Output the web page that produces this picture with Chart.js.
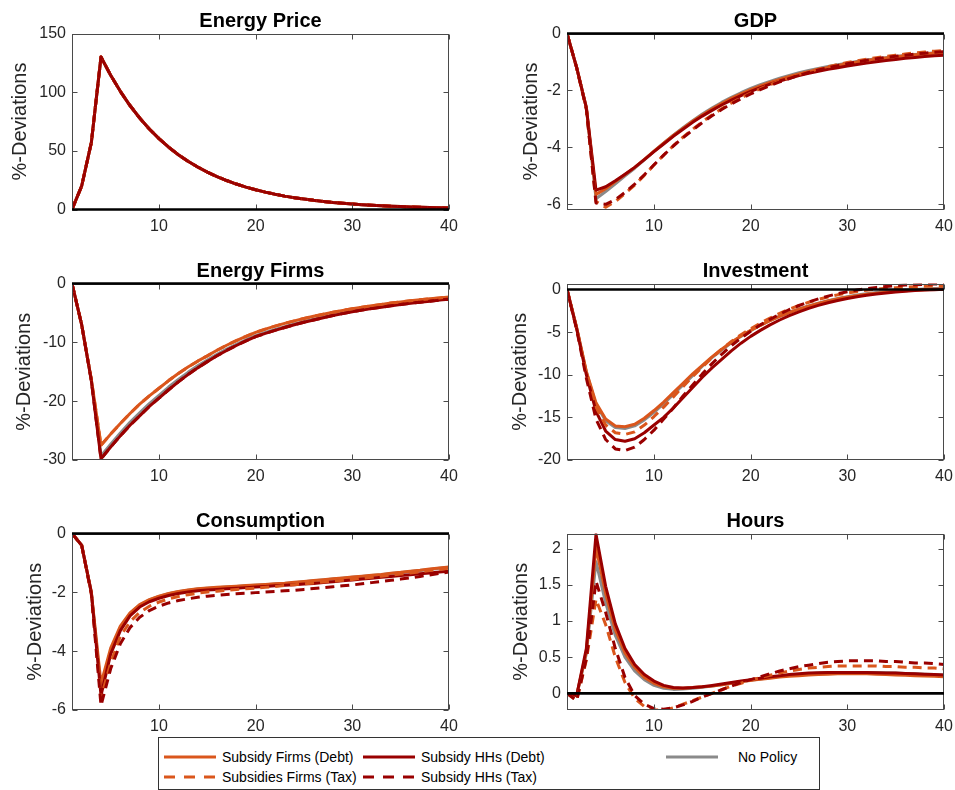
<!DOCTYPE html>
<html>
<head>
<meta charset="utf-8">
<script src="https://cdn.jsdelivr.net/npm/chart.js@4.4.0/dist/chart.umd.min.js"></script>
<style>
  html, body { margin:0; padding:0; background:#fff; }
  body { width:955px; height:790px; position:relative; overflow:hidden; font-family:"Liberation Sans", Arial, sans-serif; }
  canvas.pane { position:absolute; }
  #legend { position:absolute; left:158px; top:737px; width:660px; height:51px; border:1px solid #333; background:#fff; box-sizing:content-box; }
  .it { position:absolute; height:18px; display:flex; align-items:center; font-size:14px; color:#000; white-space:nowrap; }
</style>
</head>
<body>
<div id="legend"></div>
<script>
// ---------------- data ----------------
const periods = [1,2,3,4,5,6,7,8,9,10,11,12,13,14,15,16,17,18,19,20,21,22,23,24,25,26,27,28,29,30,31,32,33,34,35,36,37,38,39,40];
const xTickValues = [10,20,30,40];

const seriesNames = ['Subsidy Firms (Debt)','Subsidy HHs (Debt)','No Policy','Subsidies Firms (Tax)','Subsidy HHs (Tax)'];

// Energy Price (all scenarios coincide)
const energyPrice = [0,20,57,130,114.4,100.7,88.6,78.0,68.6,60.4,53.1,46.7,41.1,36.2,31.9,28.0,24.7,21.7,19.1,16.8,14.8,13.0,11.4,10.1,8.9,7.8,6.9,6.0,5.3,4.7,4.1,3.6,3.2,2.8,2.5,2.2,1.9,1.7,1.5,1.3];
const energyPriceTicks = [0,50,100,150];

// GDP
const gdpFirmsDebt = [0,-1.2,-2.6,-5.65,-5.45,-5.2,-4.95,-4.7,-4.42,-4.13,-3.85,-3.58,-3.33,-3.08,-2.86,-2.65,-2.46,-2.28,-2.12,-1.97,-1.84,-1.72,-1.61,-1.51,-1.42,-1.34,-1.26,-1.19,-1.12,-1.06,-1.0,-0.95,-0.9,-0.86,-0.82,-0.78,-0.75,-0.72,-0.69,-0.67];
const gdpHHsDebt   = [0,-1.2,-2.6,-5.5,-5.38,-5.17,-4.94,-4.7,-4.43,-4.15,-3.88,-3.61,-3.36,-3.12,-2.9,-2.7,-2.51,-2.34,-2.18,-2.03,-1.9,-1.78,-1.67,-1.57,-1.48,-1.4,-1.33,-1.26,-1.2,-1.14,-1.09,-1.04,-0.99,-0.95,-0.91,-0.87,-0.84,-0.81,-0.78,-0.76];
const gdpNoPolicy  = [0,-1.2,-2.6,-5.8,-5.55,-5.28,-5.0,-4.73,-4.44,-4.14,-3.85,-3.57,-3.31,-3.06,-2.83,-2.62,-2.42,-2.24,-2.08,-1.93,-1.8,-1.68,-1.57,-1.47,-1.38,-1.3,-1.23,-1.16,-1.1,-1.04,-0.98,-0.93,-0.89,-0.85,-0.81,-0.77,-0.74,-0.71,-0.68,-0.66];
const gdpFirmsTax  = [0,-1.2,-2.65,-5.9,-6.1,-5.9,-5.62,-5.32,-4.98,-4.62,-4.27,-3.94,-3.64,-3.36,-3.1,-2.86,-2.64,-2.44,-2.26,-2.09,-1.94,-1.8,-1.67,-1.55,-1.44,-1.34,-1.25,-1.17,-1.09,-1.02,-0.96,-0.9,-0.85,-0.8,-0.76,-0.72,-0.68,-0.65,-0.62,-0.6];
const gdpHHsTax    = [0,-1.2,-2.65,-5.95,-6.0,-5.83,-5.58,-5.29,-4.96,-4.61,-4.27,-3.95,-3.66,-3.39,-3.13,-2.89,-2.67,-2.47,-2.29,-2.12,-1.97,-1.83,-1.7,-1.58,-1.47,-1.37,-1.28,-1.2,-1.13,-1.06,-1.0,-0.94,-0.89,-0.84,-0.8,-0.76,-0.72,-0.69,-0.66,-0.64];
const gdpTicks = [-6,-4,-2,0];

// Energy Firms
const efFirmsDebt = [0,-7,-16.3,-27.5,-25.6,-23.8,-22.1,-20.5,-19.1,-17.8,-16.5,-15.3,-14.2,-13.2,-12.3,-11.35,-10.5,-9.7,-8.98,-8.3,-7.75,-7.25,-6.78,-6.35,-5.95,-5.57,-5.22,-4.89,-4.58,-4.3,-4.03,-3.78,-3.55,-3.33,-3.13,-2.94,-2.77,-2.6,-2.45,-2.3];
const efHHsDebt   = [0,-7,-16.5,-29.8,-27.8,-25.9,-24.1,-22.5,-20.9,-19.5,-18.06,-16.72,-15.48,-14.34,-13.28,-12.29,-11.38,-10.54,-9.76,-9.04,-8.49,-7.97,-7.48,-7.02,-6.59,-6.19,-5.81,-5.45,-5.12,-4.8,-4.52,-4.27,-4.02,-3.79,-3.58,-3.37,-3.18,-3.0,-2.82,-2.66];
const efNoPolicy  = [0,-7,-16.4,-29.3,-27.3,-25.4,-23.6,-22.0,-20.4,-19.0,-17.6,-16.3,-15.1,-14.0,-13.0,-12.05,-11.15,-10.33,-9.56,-8.86,-8.3,-7.8,-7.32,-6.87,-6.45,-6.06,-5.69,-5.34,-5.01,-4.7,-4.42,-4.17,-3.93,-3.7,-3.49,-3.29,-3.1,-2.93,-2.76,-2.6];
const efFirmsTax  = [0,-7,-16.3,-27.5,-25.6,-23.8,-22.1,-20.5,-19.1,-17.8,-16.5,-15.3,-14.2,-13.2,-12.3,-11.35,-10.5,-9.7,-8.98,-8.3,-7.75,-7.25,-6.78,-6.35,-5.95,-5.57,-5.22,-4.89,-4.58,-4.3,-4.03,-3.78,-3.55,-3.33,-3.13,-2.94,-2.77,-2.6,-2.45,-2.3];
const efHHsTax    = [0,-7,-16.5,-29.8,-27.8,-25.9,-24.1,-22.5,-20.9,-19.5,-18.06,-16.72,-15.48,-14.34,-13.28,-12.29,-11.38,-10.54,-9.76,-9.04,-8.49,-7.97,-7.48,-7.02,-6.59,-6.19,-5.81,-5.45,-5.12,-4.8,-4.52,-4.27,-4.02,-3.79,-3.58,-3.37,-3.18,-3.0,-2.82,-2.66];
const efTicks = [-30,-20,-10,0];

// Investment
const invFirmsDebt = [0,-4.5,-9.6,-13.3,-15.2,-16.0,-16.1,-15.8,-15.1,-14.2,-13.2,-12.1,-11.0,-9.9,-8.9,-7.9,-7.0,-6.2,-5.45,-4.8,-4.2,-3.65,-3.15,-2.7,-2.3,-1.95,-1.65,-1.35,-1.1,-0.9,-0.72,-0.56,-0.43,-0.32,-0.22,-0.14,-0.07,-0.02,0.02,0.05];
const invHHsDebt   = [0,-4.6,-10.0,-14.3,-16.6,-17.6,-17.8,-17.5,-16.8,-15.9,-15.0,-13.9,-12.7,-11.5,-10.3,-9.2,-8.2,-7.2,-6.3,-5.5,-4.8,-4.15,-3.58,-3.07,-2.62,-2.22,-1.87,-1.56,-1.29,-1.06,-0.86,-0.69,-0.54,-0.41,-0.3,-0.21,-0.13,-0.07,-0.02,0.02];
const invNoPolicy  = [0,-4.5,-9.7,-13.5,-15.4,-16.2,-16.3,-16.0,-15.3,-14.4,-13.4,-12.3,-11.2,-10.1,-9.0,-8.0,-7.1,-6.25,-5.5,-4.82,-4.2,-3.64,-3.14,-2.69,-2.28,-1.92,-1.6,-1.31,-1.06,-0.85,-0.66,-0.5,-0.36,-0.24,-0.14,-0.06,0.01,0.06,0.1,0.13];
const invFirmsTax  = [0,-4.5,-9.8,-13.8,-15.9,-16.8,-17.0,-16.7,-15.9,-14.9,-13.8,-12.6,-11.4,-10.2,-9.1,-8.0,-7.0,-6.1,-5.3,-4.6,-3.95,-3.35,-2.8,-2.3,-1.88,-1.5,-1.17,-0.88,-0.63,-0.42,-0.24,-0.09,0.03,0.13,0.21,0.28,0.33,0.37,0.4,0.42];
const invHHsTax    = [0,-4.7,-10.4,-15.2,-17.6,-18.7,-18.9,-18.5,-17.6,-16.5,-15.2,-13.9,-12.5,-11.2,-9.9,-8.7,-7.6,-6.6,-5.7,-4.9,-4.15,-3.5,-2.9,-2.35,-1.88,-1.47,-1.1,-0.78,-0.5,-0.27,-0.07,0.1,0.24,0.35,0.44,0.51,0.56,0.6,0.63,0.65];
const invTicks = [-20,-15,-10,-5,0];

// Consumption
const consFirmsDebt = [0,-0.4,-2.0,-5.1,-3.9,-3.15,-2.7,-2.42,-2.25,-2.13,-2.04,-1.97,-1.92,-1.88,-1.85,-1.83,-1.81,-1.79,-1.77,-1.75,-1.73,-1.71,-1.69,-1.66,-1.63,-1.6,-1.57,-1.54,-1.51,-1.48,-1.45,-1.42,-1.39,-1.35,-1.32,-1.28,-1.25,-1.21,-1.17,-1.14];
const consHHsDebt   = [0,-0.4,-2.0,-5.5,-4.1,-3.3,-2.8,-2.5,-2.32,-2.2,-2.11,-2.04,-1.99,-1.95,-1.92,-1.9,-1.88,-1.86,-1.84,-1.82,-1.8,-1.78,-1.76,-1.74,-1.72,-1.7,-1.67,-1.64,-1.61,-1.58,-1.55,-1.52,-1.49,-1.46,-1.43,-1.4,-1.37,-1.34,-1.31,-1.28];
const consNoPolicy  = [0,-0.4,-2.0,-5.3,-4.0,-3.2,-2.72,-2.43,-2.26,-2.14,-2.05,-1.98,-1.93,-1.89,-1.86,-1.84,-1.82,-1.8,-1.78,-1.76,-1.74,-1.72,-1.7,-1.67,-1.64,-1.61,-1.58,-1.55,-1.52,-1.49,-1.46,-1.43,-1.4,-1.36,-1.33,-1.29,-1.26,-1.22,-1.18,-1.15];
const consFirmsTax  = [0,-0.4,-2.05,-5.6,-4.4,-3.5,-3.0,-2.68,-2.47,-2.33,-2.22,-2.14,-2.08,-2.03,-1.99,-1.96,-1.93,-1.9,-1.88,-1.86,-1.83,-1.8,-1.77,-1.74,-1.71,-1.68,-1.65,-1.62,-1.59,-1.56,-1.52,-1.49,-1.45,-1.41,-1.38,-1.34,-1.3,-1.26,-1.22,-1.18];
const consHHsTax    = [0,-0.4,-2.05,-5.85,-4.6,-3.75,-3.2,-2.85,-2.62,-2.47,-2.36,-2.28,-2.22,-2.17,-2.13,-2.1,-2.07,-2.05,-2.03,-2.01,-1.99,-1.97,-1.95,-1.93,-1.9,-1.87,-1.84,-1.81,-1.78,-1.75,-1.71,-1.67,-1.63,-1.59,-1.55,-1.51,-1.46,-1.41,-1.36,-1.31];
const consTicks = [-6,-4,-2,0];

// Hours
const hoursFirmsDebt = [0,-0.03,0.58,2.02,1.38,0.88,0.56,0.36,0.22,0.14,0.09,0.07,0.07,0.08,0.09,0.1,0.12,0.14,0.16,0.18,0.195,0.21,0.225,0.235,0.245,0.255,0.26,0.265,0.27,0.27,0.27,0.27,0.265,0.26,0.255,0.25,0.245,0.24,0.235,0.23];
const hoursHHsDebt   = [0,-0.03,0.62,2.2,1.48,0.96,0.62,0.4,0.26,0.17,0.11,0.08,0.075,0.08,0.09,0.11,0.13,0.15,0.17,0.19,0.21,0.23,0.245,0.26,0.27,0.28,0.285,0.29,0.29,0.29,0.29,0.29,0.285,0.28,0.28,0.275,0.27,0.265,0.26,0.255];
const hoursNoPolicy  = [0,-0.03,0.55,1.82,1.25,0.8,0.5,0.31,0.19,0.11,0.07,0.055,0.06,0.07,0.085,0.1,0.12,0.14,0.16,0.18,0.2,0.22,0.235,0.25,0.26,0.27,0.28,0.285,0.29,0.29,0.29,0.29,0.29,0.285,0.28,0.275,0.27,0.265,0.26,0.255];
const hoursFirmsTax  = [0,-0.1,0.46,1.3,0.95,0.5,0.15,-0.07,-0.18,-0.23,-0.23,-0.2,-0.15,-0.1,-0.05,0.0,0.05,0.1,0.14,0.18,0.22,0.25,0.28,0.31,0.33,0.35,0.36,0.37,0.38,0.38,0.38,0.38,0.38,0.37,0.37,0.36,0.36,0.35,0.35,0.34];
const hoursHHsTax    = [0,-0.1,0.48,1.55,1.12,0.62,0.22,-0.03,-0.15,-0.21,-0.22,-0.2,-0.16,-0.11,-0.05,0.0,0.05,0.1,0.15,0.19,0.23,0.27,0.31,0.34,0.37,0.39,0.41,0.43,0.44,0.45,0.45,0.45,0.45,0.44,0.44,0.43,0.42,0.42,0.41,0.4];
const hoursTicks = [0,0.5,1,1.5,2];

// ---------------- styling ----------------
const FONT = '"Liberation Sans", Arial, Helvetica, sans-serif';
const ORANGE = '#DA561C';
const DARKRED = '#990000';
const GREY = '#8A8A8A';
const seriesStyles = [
  {color: ORANGE,  dash: [],    order: 4},  // Subsidy Firms (Debt)
  {color: DARKRED, dash: [],    order: 3},  // Subsidy HHs (Debt)
  {color: GREY,    dash: [],    order: 5},  // No Policy
  {color: ORANGE,  dash: [9,6], order: 2},  // Subsidies Firms (Tax)
  {color: DARKRED, dash: [9,6], order: 1}   // Subsidy HHs (Tax)
];

Chart.defaults.font.family = FONT;

const framePlugin = {
  id: 'frame',
  afterDatasetsDraw(chart, args, opts) {
    const {ctx, chartArea: a, scales} = chart;
    const xs = scales.x, ys = scales.y;
    ctx.save();
    const L = Math.round(a.left) + 0.5, R = Math.round(a.right) - 0.5;
    const T = Math.round(a.top) + 0.5, B = Math.round(a.bottom) - 0.5;
    ctx.strokeStyle = '#4a4a4a';
    ctx.lineWidth = 1;
    ctx.setLineDash([]);
    ctx.strokeRect(L, T, R - L, B - T);
    ctx.beginPath();
    xs.ticks.forEach(t => {
      const px = Math.round(xs.getPixelForValue(t.value)) + 0.5;
      ctx.moveTo(px, B); ctx.lineTo(px, B - 5);
      ctx.moveTo(px, T); ctx.lineTo(px, T + 5);
    });
    ys.ticks.forEach(t => {
      const py = Math.round(ys.getPixelForValue(t.value)) + 0.5;
      ctx.moveTo(L, py); ctx.lineTo(L + 5, py);
      ctx.moveTo(R, py); ctx.lineTo(R - 5, py);
    });
    ctx.stroke();
    if (ys.min <= 0 && ys.max >= 0) {
      const py = ys.getPixelForValue(0);
      ctx.strokeStyle = '#000';
      ctx.lineWidth = 2.6;
      ctx.beginPath();
      ctx.moveTo(a.left, py); ctx.lineTo(a.right, py);
      ctx.stroke();
    }
    ctx.fillStyle = '#000';
    ctx.font = 'bold 20px ' + FONT;
    ctx.textAlign = 'center';
    ctx.textBaseline = 'alphabetic';
    ctx.fillText(opts.title, (a.left + a.right) / 2, a.top - 6.5);
    ctx.restore();
  }
};

function makePanel(p) {
  const cv = document.createElement('canvas');
  cv.className = 'pane';
  cv.width = p.w; cv.height = p.h;
  cv.style.left = p.left + 'px'; cv.style.top = p.top + 'px';
  cv.style.width = p.w + 'px'; cv.style.height = p.h + 'px';
  document.body.insertBefore(cv, document.getElementById('legend'));
  const datasets = p.series.map((vals, i) => ({
    label: seriesNames[i],
    data: periods.map((t, k) => ({x: t, y: vals[k]})),
    borderColor: seriesStyles[i].color,
    backgroundColor: seriesStyles[i].color,
    borderDash: seriesStyles[i].dash,
    borderWidth: 3,
    order: seriesStyles[i].order,
    pointRadius: 0,
    tension: 0,
    fill: false
  }));
  new Chart(cv, {
    type: 'line',
    data: {datasets},
    options: {
      responsive: false,
      animation: false,
      events: [],
      layout: {padding: {top: p.padTop, right: p.padRight, left: 0, bottom: 0}},
      plugins: {legend: {display: false}, tooltip: {enabled: false}, title: {display: false}, frame: {title: p.title}},
      elements: {line: {borderJoinStyle: 'round', borderCapStyle: 'butt'}},
      scales: {
        x: {
          type: 'linear', min: 1, max: 40,
          afterBuildTicks: s => { s.ticks = xTickValues.map(v => ({value: v})); },
          afterFit: s => { s.height = p.xh; },
          grid: {display: false, drawTicks: false},
          border: {display: false},
          ticks: {padding: 7, color: '#262626', font: {size: 16}, maxRotation: 0, autoSkip: false, callback: v => String(v)}
        },
        y: {
          type: 'linear', min: p.yMin, max: p.yMax,
          afterBuildTicks: s => { s.ticks = p.yTicks.map(v => ({value: v})); },
          afterFit: s => { s.width = p.yw; },
          grid: {display: false, drawTicks: false},
          border: {display: false},
          ticks: {padding: 6, color: '#262626', font: {size: 16}, autoSkip: false, callback: v => String(v)},
          title: {display: true, text: '%-Deviations', color: '#262626', font: {size: 20}, padding: {top: p.labelPad, bottom: 0}}
        }
      }
    },
    plugins: [framePlugin]
  });
}

const LEFT = {left: 0, w: 477, yw: 72, padRight: 28};
const RIGHT = {left: 478, w: 497, yw: 89, padRight: 31};

const panels = [
  Object.assign({}, LEFT,  {title: 'Energy Price', top: 0,   h: 240, padTop: 33.5, xh: 30.5, yMin: 0,     yMax: 150,  yTicks: energyPriceTicks, labelPad: 8,
    series: [energyPrice, energyPrice, energyPrice, energyPrice, energyPrice]}),
  Object.assign({}, RIGHT, {title: 'GDP',          top: 0,   h: 240, padTop: 33.5, xh: 30.5, yMin: -6.18, yMax: 0,    yTicks: gdpTicks, labelPad: 41,
    series: [gdpFirmsDebt, gdpHHsDebt, gdpNoPolicy, gdpFirmsTax, gdpHHsTax]}),
  Object.assign({}, LEFT,  {title: 'Energy Firms', top: 250, h: 240, padTop: 33.5, xh: 30,   yMin: -30,   yMax: 0,    yTicks: efTicks, labelPad: 12.5,
    series: [efFirmsDebt, efHHsDebt, efNoPolicy, efFirmsTax, efHHsTax]}),
  Object.assign({}, RIGHT, {title: 'Investment',   top: 250, h: 240, padTop: 33.5, xh: 30,   yMin: -20,   yMax: 0.7,  yTicks: invTicks, labelPad: 30,
    series: [invFirmsDebt, invHHsDebt, invNoPolicy, invFirmsTax, invHHsTax]}),
  Object.assign({}, LEFT,  {title: 'Consumption',  top: 500, h: 240, padTop: 33.5, xh: 30,   yMin: -6,    yMax: 0,    yTicks: consTicks, labelPad: 23,
    series: [consFirmsDebt, consHHsDebt, consNoPolicy, consFirmsTax, consHHsTax]}),
  Object.assign({}, RIGHT, {title: 'Hours',        top: 500, h: 240, padTop: 33.5, xh: 30,   yMin: -0.23, yMax: 2.21, yTicks: hoursTicks, labelPad: 31,
    series: [hoursFirmsDebt, hoursHHsDebt, hoursNoPolicy, hoursFirmsTax, hoursHHsTax]})
];
panels.forEach(makePanel);

// ---------------- legend ----------------
const legendItems = [
  {name: seriesNames[0], s: seriesStyles[0], x: 5,   row: 0, gap: 6},
  {name: seriesNames[1], s: seriesStyles[1], x: 204, row: 0, gap: 6},
  {name: seriesNames[2], s: seriesStyles[2], x: 507, row: 0, gap: 20},
  {name: seriesNames[3], s: seriesStyles[3], x: 5,   row: 1, gap: 6},
  {name: seriesNames[4], s: seriesStyles[4], x: 204, row: 1, gap: 6}
];
const lg = document.getElementById('legend');
legendItems.forEach(it => {
  const d = document.createElement('div');
  d.className = 'it';
  d.style.left = it.x + 'px';
  d.style.top = (it.row === 0 ? 10 : 30) + 'px';
  const dash = it.s.dash.length ? 'stroke-dasharray="11,9"' : '';
  d.innerHTML = '<svg width="52" height="6" style="margin-right:' + it.gap + 'px"><line x1="0" y1="3" x2="52" y2="3" stroke="' + it.s.color + '" stroke-width="3" ' + dash + '/></svg><span>' + it.name + '</span>';
  lg.appendChild(d);
});
</script>
</body>
</html>
